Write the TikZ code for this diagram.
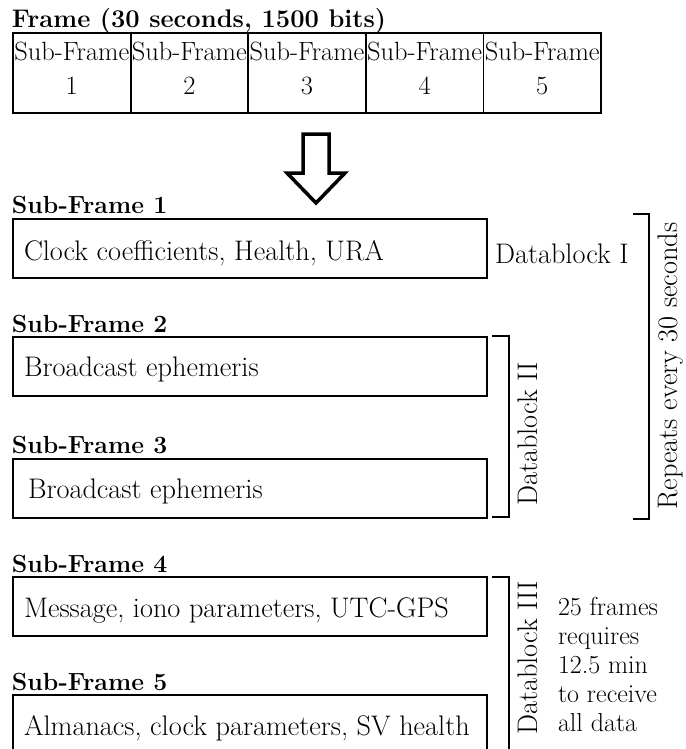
\documentclass[tikz,border=0pt]{standalone}
\usepackage{fontspec}
\begin{document}
\begin{tikzpicture}[x=1pt,y=-1pt,
  every node/.style={inner sep=0pt, outer sep=0pt},
  frame/.style={draw, line width=1.8pt},
  sfbox/.style={frame, minimum width=117.6pt, minimum height=80pt},
  databox/.style={frame, minimum width=474pt, minimum height=59pt, anchor=north west},
  bodytxt/.style={font=\fontsize{28.3}{34}\selectfont, anchor=base west},
  sftxt/.style={font=\fontsize{26.4}{31}\selectfont, anchor=base},
  headtxt/.style={font=\bfseries\fontsize{24.8}{30}\selectfont, anchor=base west},
  titletxt/.style={font=\bfseries\fontsize{25.5}{30}\selectfont, anchor=base west},
  sidetxt/.style={font=\fontsize{26}{31}\selectfont, anchor=base west},
  vtxt/.style={font=\fontsize{28.3}{34}\selectfont, rotate=90, anchor=base},
  bracket/.style={draw, line width=1.5pt},
  bigarrow/.style={draw, line width=3.5pt, fill=white, line join=miter}
]
\useasboundingbox (0,0) rectangle (685,749);
\clip (0,0) rectangle (685,749);

% title and frame row
\node[titletxt] (title) at (12,28) {Frame (30 seconds, 1500 bits)};
\foreach \i in {1,...,5} {
  \node[sfbox] (f\i) at ({13+117.6*(\i-0.5)},73) {};
  \node[sftxt] (fa\i) at ({13+117.6*(\i-0.5)},61) {Sub-Frame};
  \node[sftxt] (fb\i) at ({13+117.6*(\i-0.5)},95) {\i};
}

% block arrow
\draw[bigarrow] (303,134) -- (329,134) -- (329,173) -- (345,173) -- (316,203) -- (287,173) -- (303,173) -- cycle;

% sub-frame 1
\node[headtxt] (h1) at (12,213) {Sub-Frame 1};
\node[databox] (d1) at (13,219) {};
\node[bodytxt] (t1) at (24,260) {Clock coefficients, Health, URA};
\node[bodytxt] (dbI) at (495,263) {Datablock I};

% sub-frame 2
\node[headtxt] (h2) at (12,332) {Sub-Frame 2};
\node[databox] (d2) at (13,337) {};
\node[bodytxt] (t2) at (24,376) {Broadcast ephemeris};

% sub-frame 3
\node[headtxt] (h3) at (12,453) {Sub-Frame 3};
\node[databox] (d3) at (13,459) {};
\node[bodytxt] (t3) at (28,498) {Broadcast ephemeris};

% sub-frame 4
\node[headtxt] (h4) at (12,572) {Sub-Frame 4};
\node[databox] (d4) at (13,577) {};
\node[bodytxt] (t4) at (24,617) {Message, iono parameters, UTC-GPS};

% sub-frame 5
\node[headtxt] (h5) at (12,690) {Sub-Frame 5};
\node[databox, minimum height=80pt] (d5) at (13,695) {};
\node[bodytxt] (t5) at (24,735) {Almanacs, clock parameters, SV health};

% brackets
\draw[bracket] (633,214) -- (649,214) -- (649,519) -- (633,519);
\draw[bracket] (492,336) -- (509,336) -- (509,517) -- (492,517);
\draw[bracket] (492,577) -- (509,577) -- (509,760);

% rotated labels
\node[vtxt] (rep) at (677,366) {Repeats every 30 seconds};
\node[vtxt] (dbII) at (537,434) {Datablock II};
\node[vtxt] (dbIII) at (537,658) {Datablock III};

% side note
\node[sidetxt] (n1) at (558,615) {25 frames};
\node[sidetxt] (n2) at (558,644) {requires};
\node[sidetxt] (n3) at (558,673) {12.5 min};
\node[sidetxt] (n4) at (558,702) {to receive};
\node[sidetxt] (n5) at (558,731) {all data};
\end{tikzpicture}
\end{document}
